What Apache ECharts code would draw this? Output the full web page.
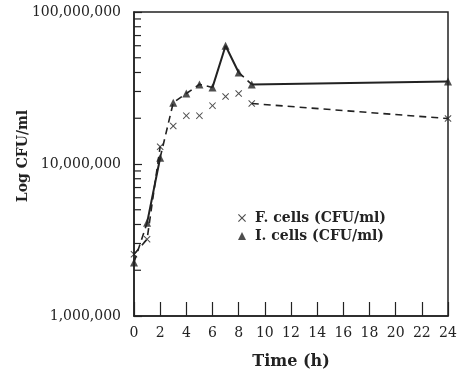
<!DOCTYPE html>
<html>
<head>
<meta charset="utf-8">
<script src="https://cdn.jsdelivr.net/npm/echarts@6/dist/echarts.min.js"></script>
<style>
  html, body { margin: 0; padding: 0; background: #fff; }
  #main { width: 459px; height: 373px; }
</style>
</head>
<body>
<div id="main"></div>
<script>
// hours sampled
var times = [0, 1, 2, 3, 4, 5, 6, 7, 8, 9, 24];
// F. cells (CFU/ml)
var fCells = [2.55e6, 3.2e6, 13e6, 17.8e6, 20.8e6, 20.8e6, 24.2e6, 27.8e6, 29.1e6, 25e6, 19.9e6];
// I. cells (CFU/ml)
var iCells = [2.25e6, 4.1e6, 11e6, 25.3e6, 29.1e6, 33.4e6, 31.9e6, 60e6, 40e6, 33.4e6, 34.9e6];
// log axis minor tick values
var minorTicks = [2e6, 3e6, 4e6, 5e6, 6e6, 7e6, 8e6, 9e6, 2e7, 3e7, 4e7, 5e7, 6e7, 7e7, 8e7, 9e7];

// index ranges joined by line pieces (solid / dashed)
var iSolid = [[1, 2], [6, 8], [9, 10]];
var iDashed = [[0, 1], [2, 6], [8, 9]];
var fDashed = [[0, 2], [9, 10]];

var ink = '#222';
var serif = 'DejaVu Serif';
var xSym = 'path://M0,1L1,0L5,4L9,0L10,1L6,5L10,9L9,10L5,6L1,10L0,9L4,5Z';

function pts(vals, a, b) {
  var out = [];
  for (var k = a; k <= b; k++) out.push([times[k], vals[k]]);
  return out;
}

function pieces(vals, ranges, type, width) {
  return ranges.map(function (r) {
    return {
      type: 'line',
      data: pts(vals, r[0], r[1]),
      symbol: 'none',
      silent: true,
      lineStyle: { color: ink, width: width, type: type },
      z: 2
    };
  });
}

var myChart = echarts.init(document.getElementById('main'));

var series = []
  .concat(pieces(iCells, iSolid, 'solid', 2))
  .concat(pieces(iCells, iDashed, [7, 5], 1.6))
  .concat(pieces(fCells, fDashed, [7, 5], 1.6));

// minor ticks of the log axis, drawn inside
series.push({
  type: 'custom',
  silent: true,
  data: minorTicks.map(function (v) { return [0, v]; }),
  renderItem: function (params, api) {
    var p = api.coord([api.value(0), api.value(1)]);
    return {
      type: 'line',
      shape: { x1: p[0], y1: p[1], x2: p[0] + 7, y2: p[1] },
      style: { stroke: ink, lineWidth: 1.2 }
    };
  },
  z: 1
});

series.push({
  name: 'F. cells (CFU/ml)',
  type: 'scatter',
  data: pts(fCells, 0, times.length - 1),
  symbol: xSym,
  symbolSize: 7,
  itemStyle: { color: ink },
  z: 3
});
series.push({
  name: 'I. cells (CFU/ml)',
  type: 'scatter',
  data: pts(iCells, 0, times.length - 1),
  symbol: 'triangle',
  symbolSize: 8,
  itemStyle: { color: ink },
  z: 3
});

var option = {
  backgroundColor: '#fff',
  animation: false,
  grid: {
    left: 134, right: 11, top: 12, bottom: 57,
    outerBoundsMode: 'none',
    show: true, borderColor: ink, borderWidth: 1.5
  },
  legend: {
    orient: 'vertical',
    left: 233, top: 206,
    itemGap: 4,
    itemWidth: 8, itemHeight: 8,
    data: [
      { name: 'F. cells (CFU/ml)', icon: xSym },
      { name: 'I. cells (CFU/ml)', icon: 'triangle' }
    ],
    textStyle: { fontFamily: serif, fontSize: 14, fontWeight: 'bold', color: ink, padding: [0, 0, 0, 4] }
  },
  xAxis: {
    type: 'value',
    min: 0, max: 24, interval: 2,
    name: 'Time (h)',
    nameLocation: 'middle',
    nameGap: 38,
    nameMoveOverlap: false,
    nameTextStyle: { fontFamily: serif, fontSize: 16, fontWeight: 'bold', color: ink },
    axisLine: { lineStyle: { color: ink, width: 1.5 } },
    axisTick: { inside: true, length: 14, lineStyle: { color: ink, width: 1.2 } },
    axisLabel: { fontFamily: serif, fontSize: 14, color: ink, margin: 10 },
    splitLine: { show: false }
  },
  yAxis: {
    type: 'log',
    min: 1e6, max: 1e8,
    logBase: 10,
    name: 'Log CFU/ml',
    nameLocation: 'middle',
    nameGap: 104,
    nameRotate: 90,
    nameMoveOverlap: false,
    nameTextStyle: { fontFamily: serif, fontSize: 14, fontWeight: 'bold', color: ink, padding: [0, 0, 0, 16] },
    axisLine: { lineStyle: { color: ink, width: 1.5 } },
    axisTick: { inside: true, length: 8, lineStyle: { color: ink, width: 1.2 } },
    axisLabel: {
      fontFamily: serif, fontSize: 14, color: ink, margin: 13,
      formatter: function (v) { return Math.round(v).toLocaleString('en-US'); }
    },
    splitLine: { show: false }
  },
  series: series
};

myChart.setOption(option);
</script>
</body>
</html>
